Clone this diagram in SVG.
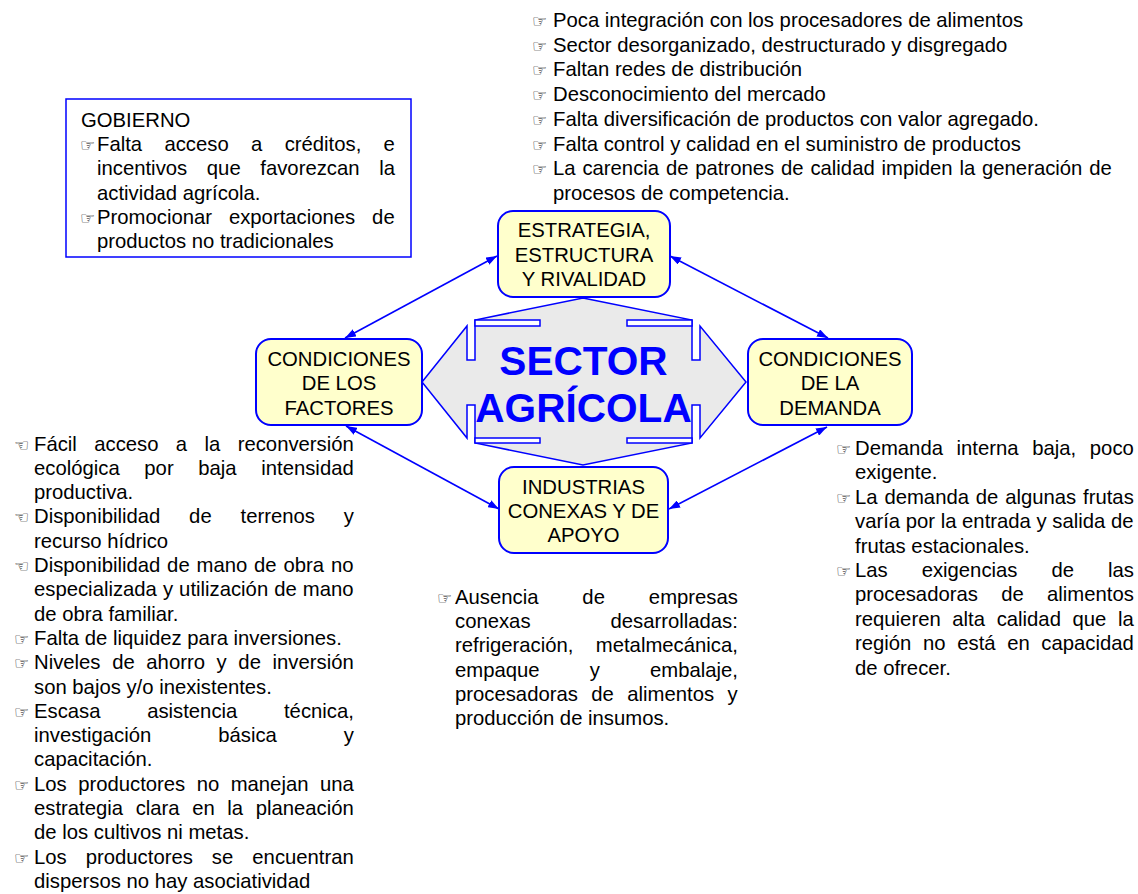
<svg xmlns="http://www.w3.org/2000/svg" width="1138" height="894" viewBox="0 0 1138 894">
<style>
text{font-family:"Liberation Sans",Arial,sans-serif;font-size:20.3px;fill:#000}
.c{text-anchor:middle}
.b{font-family:"DejaVu Sans",sans-serif;font-size:17px}
.node{fill:#FFFFCC;stroke:#0000FF;stroke-width:2}
.conn{stroke:#0000FF;stroke-width:1.6;fill:none;marker-start:url(#ah);marker-end:url(#ah)}
.notch{fill:#fff;stroke:#0000FF;stroke-width:1.5}
.big{font-weight:bold;font-size:40.6px;fill:#0000FF;text-anchor:middle}
</style>
<defs>
<marker id="ah" viewBox="0 0 11 8" refX="11" refY="4" markerWidth="11" markerHeight="8" markerUnits="userSpaceOnUse" orient="auto-start-reverse">
<path d="M0,0 L11,4 L0,8 Z" fill="#0000FF"/>
</marker>
</defs>
<rect width="1138" height="894" fill="#fff"/>

<g id="centro">
<path d="M583,298 L692,320 L692,360 L700,360 L700,326 L746,382 L700,438 L700,405 L692,405 L692,443 L583,465 L475,443 L475,405 L467,405 L467,438 L422,382 L467,326 L467,360 L475,360 L475,320 Z" fill="#EAEAEA" stroke="#0000FF" stroke-width="1.5"/>
<rect class="notch" x="475" y="320" width="65" height="6"/>
<rect class="notch" x="627" y="320" width="65" height="6"/>
<rect class="notch" x="475" y="438" width="65" height="5"/>
<rect class="notch" x="627" y="438" width="65" height="5"/>
<text class="big" x="583.5" y="375">SECTOR</text>
<text class="big" x="583.5" y="421.5">AGRÍCOLA</text>
</g>

<g id="connectors">
<line class="conn" x1="345" y1="338" x2="497" y2="256"/>
<line class="conn" x1="670" y1="256" x2="828" y2="338"/>
<line class="conn" x1="346" y1="426" x2="499" y2="509"/>
<line class="conn" x1="827" y1="427" x2="669" y2="509"/>
</g>

<g id="estrategia">
<rect class="node" x="498" y="211" width="172" height="86" rx="15"/>
<text class="c" x="584" y="237">ESTRATEGIA,</text>
<text class="c" x="584" y="261.5">ESTRUCTURA</text>
<text class="c" x="584" y="286">Y RIVALIDAD</text>
</g>

<g id="factores">
<rect class="node" x="256" y="339" width="166" height="86" rx="15"/>
<text class="c" x="339" y="365.5">CONDICIONES</text>
<text class="c" x="339" y="390">DE LOS</text>
<text class="c" x="339" y="414.5">FACTORES</text>
</g>

<g id="demanda">
<rect class="node" x="748" y="339" width="164" height="86" rx="15"/>
<text class="c" x="830" y="365.5">CONDICIONES</text>
<text class="c" x="830" y="390">DE LA</text>
<text class="c" x="830" y="414.5">DEMANDA</text>
</g>

<g id="industrias">
<rect class="node" x="499" y="467" width="169" height="86" rx="15"/>
<text class="c" x="583.5" y="494">INDUSTRIAS</text>
<text class="c" x="583.5" y="518">CONEXAS Y DE</text>
<text class="c" x="583.5" y="542">APOYO</text>
</g>

<g id="gobierno">
<rect x="66" y="99" width="345" height="158" fill="#fff" stroke="#0000FF" stroke-width="1.5"/>
<text x="81" y="126.5">GOBIERNO</text>
<text class="b" x="80" y="150.5">☞</text>
<text x="97" y="150.5" word-spacing="16.7">Falta acceso a créditos, e</text>
<text x="97" y="175" word-spacing="14">incentivos que favorezcan la</text>
<text x="97" y="199.5">actividad agrícola.</text>
<text class="b" x="80" y="223.5">☞</text>
<text x="97" y="223.5" word-spacing="11.3">Promocionar exportaciones de</text>
<text x="97" y="248">productos no tradicionales</text>
</g>

<g id="lista-estrategia">
<text class="b" x="532" y="27">☞</text>
<text x="553" y="27">Poca integración con los procesadores de alimentos</text>
<text class="b" x="532" y="51.7">☞</text>
<text x="553" y="51.7">Sector desorganizado, destructurado y disgregado</text>
<text class="b" x="532" y="76.4">☞</text>
<text x="553" y="76.4">Faltan redes de distribución</text>
<text class="b" x="532" y="101.1">☞</text>
<text x="553" y="101.1">Desconocimiento del mercado</text>
<text class="b" x="532" y="125.8">☞</text>
<text x="553" y="125.8">Falta diversificación de productos con valor agregado.</text>
<text class="b" x="532" y="150.5">☞</text>
<text x="553" y="150.5">Falta control y calidad en el suministro de productos</text>
<text class="b" x="532" y="175.2">☞</text>
<text x="553" y="175.2" word-spacing="1.2">La carencia de patrones de calidad impiden la generación de</text>
<text x="553" y="199.9">procesos de competencia.</text>
</g>

<g id="lista-factores">
<text class="b" x="14" y="450.5">☜</text>
<text x="34" y="450.5" word-spacing="11.75">Fácil acceso a la reconversión</text>
<text x="34" y="474.8" word-spacing="19">ecológica por baja intensidad</text>
<text x="34" y="499.1">productiva.</text>
<text class="b" x="14" y="523.4">☜</text>
<text x="34" y="523.4" word-spacing="23.2">Disponibilidad de terrenos y</text>
<text x="34" y="547.7">recurso hídrico</text>
<text class="b" x="14" y="572">☜</text>
<text x="34" y="572" word-spacing="1.2">Disponibilidad de mano de obra no</text>
<text x="34" y="596.3" word-spacing="0.4">especializada y utilización de mano</text>
<text x="34" y="620.6">de obra familiar.</text>
<text class="b" x="14" y="644.9">☞</text>
<text x="34" y="644.9">Falta de liquidez para inversiones.</text>
<text class="b" x="14" y="669.2">☞</text>
<text x="34" y="669.2" word-spacing="6">Niveles de ahorro y de inversión</text>
<text x="34" y="693.5">son bajos y/o inexistentes.</text>
<text class="b" x="14" y="717.8">☞</text>
<text x="34" y="717.8" word-spacing="41">Escasa asistencia técnica,</text>
<text x="34" y="742.1" word-spacing="61.3">investigación básica y</text>
<text x="34" y="766.4">capacitación.</text>
<text class="b" x="14" y="790.7">☞</text>
<text x="34" y="790.7" word-spacing="5.8">Los productores no manejan una</text>
<text x="34" y="815" word-spacing="6.95">estrategia clara en la planeación</text>
<text x="34" y="839.3">de los cultivos ni metas.</text>
<text class="b" x="14" y="863.6">☞</text>
<text x="34" y="863.6" word-spacing="13.4">Los productores se encuentran</text>
<text x="34" y="887.9">dispersos no hay asociatividad</text>
</g>

<g id="lista-industrias">
<text class="b" x="437" y="604">☞</text>
<text x="455" y="604" word-spacing="38.3">Ausencia de empresas</text>
<text x="455" y="628.2" word-spacing="74.3">conexas desarrolladas:</text>
<text x="455" y="652.4" word-spacing="16.8">refrigeración, metalmecánica,</text>
<text x="455" y="676.6" word-spacing="44.5">empaque y embalaje,</text>
<text x="455" y="700.8" word-spacing="7.8">procesadoras de alimentos y</text>
<text x="455" y="725">producción de insumos.</text>
</g>

<g id="lista-demanda">
<text class="b" x="836" y="455">☞</text>
<text x="855" y="455" word-spacing="8">Demanda interna baja, poco</text>
<text x="855" y="479.4">exigente.</text>
<text class="b" x="836" y="503.8">☞</text>
<text x="855" y="503.8" word-spacing="1.2">La demanda de algunas frutas</text>
<text x="855" y="528.2">varía por la entrada y salida de</text>
<text x="855" y="552.6">frutas estacionales.</text>
<text class="b" x="836" y="577">☞</text>
<text x="855" y="577" word-spacing="28.3">Las exigencias de las</text>
<text x="855" y="601.4" word-spacing="17.65">procesadoras de alimentos</text>
<text x="855" y="625.8" word-spacing="6">requieren alta calidad que la</text>
<text x="855" y="650.2" word-spacing="6">región no está en capacidad</text>
<text x="855" y="674.6">de ofrecer.</text>
</g>
</svg>
